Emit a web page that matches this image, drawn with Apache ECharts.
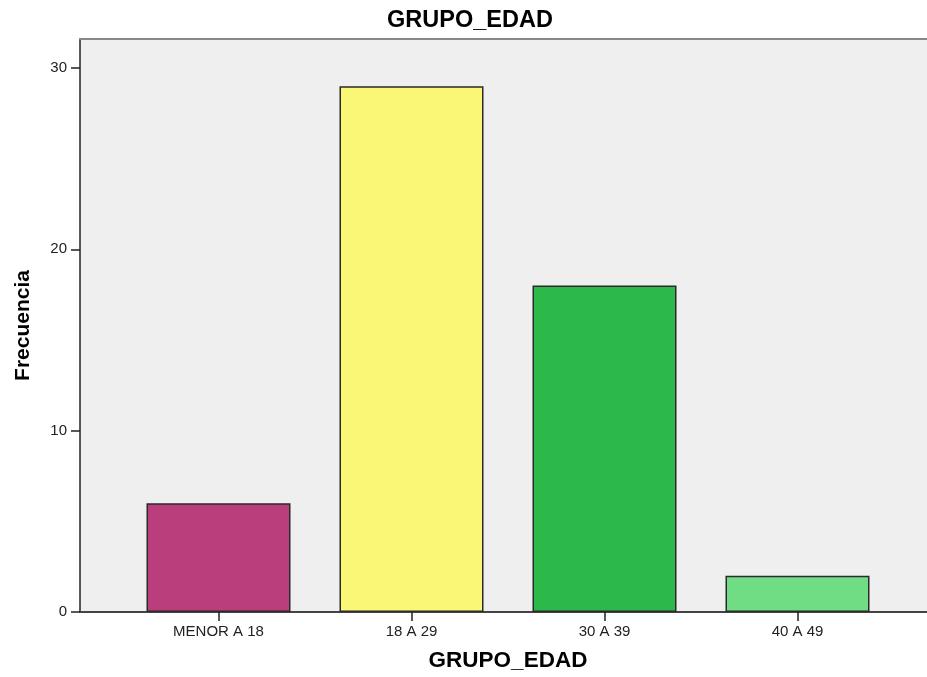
<!DOCTYPE html>
<html>
<head>
<meta charset="utf-8">
<script src="https://cdn.jsdelivr.net/npm/echarts@6/dist/echarts.min.js"></script>
<style>
html,body{margin:0;padding:0;background:#fff;}
#chart{width:927px;height:677px;}
</style>
</head>
<body>
<div id="chart"></div>
<script>
var categories = ['MENOR A 18', '18 A 29', '30 A 39', '40 A 49'];
var frecuencia = [6, 29, 18, 2];
var barColors = ['#BA3E7B', '#FAF777', '#2DB84A', '#70DD84'];
var yTicks = [0, 10, 20, 30];

var FONT = '"Liberation Sans", Arial, sans-serif';
var chart = echarts.init(document.getElementById('chart'));
chart.setOption({
  animation: false,
  backgroundColor: '#ffffff',
  title: {
    text: 'GRUPO_EDAD', left: 470, textAlign: 'center', top: 9, padding: 0,
    textStyle: {fontFamily: FONT, fontSize: 23.5, fontWeight: 'bold', color: '#000'}
  },
  grid: [
    {left: 122, right: 33, top: 39, bottom: 65, z: 2},
    {left: 80, right: 0, top: 39, bottom: 65, show: true, backgroundColor: '#efefef', borderWidth: 0, z: 0}
  ],
  xAxis: [
    {
      type: 'category', gridIndex: 0, data: categories,
      axisLine: {show: false},
      axisTick: {show: true, alignWithLabel: true, length: 9, lineStyle: {color: '#222', width: 1.5}},
      axisLabel: {fontFamily: FONT, fontSize: 15, color: '#222', margin: 12},
      name: 'GRUPO_EDAD', nameLocation: 'middle', nameGap: 37,
      nameTextStyle: {fontFamily: FONT, fontSize: 22.5, fontWeight: 'bold', color: '#000'}
    },
    {
      type: 'value', gridIndex: 1, min: 0, max: 1, position: 'bottom',
      axisLine: {show: true, lineStyle: {color: '#444', width: 2}},
      axisTick: {show: false}, axisLabel: {show: false}, splitLine: {show: false}
    },
    {
      type: 'value', gridIndex: 1, min: 0, max: 1, position: 'top',
      axisLine: {show: true, lineStyle: {color: '#888', width: 2}},
      axisTick: {show: false}, axisLabel: {show: false}, splitLine: {show: false}
    }
  ],
  yAxis: [
    {
      type: 'value', gridIndex: 0, min: yTicks[0], max: 31.6, interval: 10, offset: 42,
      axisLine: {show: true, lineStyle: {color: '#222', width: 1.5}},
      axisTick: {show: true, length: 9, lineStyle: {color: '#222', width: 1.5}},
      axisLabel: {fontFamily: FONT, fontSize: 15, color: '#222', margin: 13, showMaxLabel: false,
        formatter: function (v) { return yTicks.indexOf(v) >= 0 ? String(v) : ''; }},
      splitLine: {show: false},
      name: 'Frecuencia', nameLocation: 'middle', nameGap: 46, nameRotate: 90,
      nameTextStyle: {fontFamily: FONT, fontSize: 21, fontWeight: 'bold', color: '#000'}
    },
    {
      type: 'value', gridIndex: 1, min: 0, max: 1,
      axisLine: {show: false}, axisTick: {show: false}, axisLabel: {show: false}, splitLine: {show: false}
    }
  ],
  series: [{
    type: 'bar', xAxisIndex: 0, yAxisIndex: 0, barWidth: 144, z: 3,
    data: frecuencia.map(function (v, i) {
      return {value: v, itemStyle: {color: barColors[i]}};
    }),
    itemStyle: {borderColor: '#2a2a2a', borderWidth: 1.5}
  }]
});
</script>
</body>
</html>
